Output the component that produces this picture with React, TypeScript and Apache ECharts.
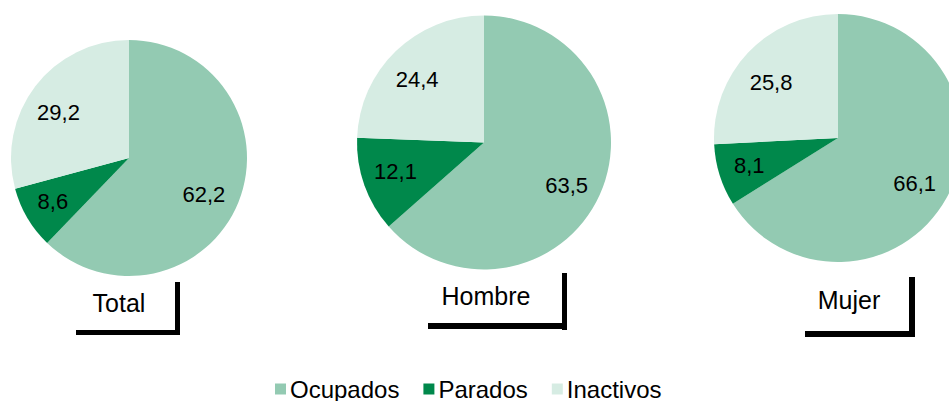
import React, { useEffect, useRef } from "react";
import * as echarts from "echarts";

const categories = ["Ocupados", "Parados", "Inactivos"];
const groups = ["Total", "Hombre", "Mujer"];
const totalValues = [62.2, 8.6, 29.2];
const hombreValues = [63.5, 12.1, 24.4];
const mujerValues = [66.1, 8.1, 25.8];
const groupValues = [totalValues, hombreValues, mujerValues];

const colors = ["#93CAB2", "#00884B", "#D6ECE3"];
const FONT = "'Liberation Sans', Arial, sans-serif";

// layout (positions / sizes)
const pieLayout = [
  { cx: 129, cy: 158, r: 118, labelR: 164 },
  { cx: 484, cy: 142.5, r: 127, labelR: 184 },
  { cx: 838, cy: 138, r: 124, labelR: 176 },
];
// small per-slice label nudges (Excel best-fit placement)
const labelNudge = [
  [[-4, 5], [-3, 0], [-3, 6]],
  [[-4, 4], [1, -3], [-1, 5]],
  [[-3, 1], [-2, 0], [-1, 7]],
];
const titleLayout = [
  { x: 119, y: 290 },
  { x: 486, y: 283 },
  { x: 849, y: 287 },
];
const shadowRects = [
  { x: 175, y: 282, w: 5, h: 53 },
  { x: 76, y: 330, w: 104, h: 5 },
  { x: 562, y: 273, w: 5, h: 57 },
  { x: 428, y: 323, w: 139, h: 6 },
  { x: 909, y: 277, w: 6, h: 60 },
  { x: 805, y: 331, w: 110, h: 6 },
];

export default function App() {
  const ref = useRef<HTMLDivElement>(null);
  useEffect(() => {
    document.body.style.margin = "0";
    if (!ref.current) return;
    const chart = echarts.init(ref.current, null, { renderer: "svg" });
    const series: any[] = [];
    groups.forEach((g, gi) => {
      const L = pieLayout[gi];
      const vals = groupValues[gi];
      series.push({
        type: "pie",
        name: g,
        center: [L.cx, L.cy],
        radius: [0, L.r],
        startAngle: 90,
        clockwise: true,
        silent: true,
        label: { show: false },
        labelLine: { show: false },
        data: categories.map((c, i) => ({
          name: c,
          value: vals[i],
          itemStyle: { color: colors[i] },
        })),
      });
    });
    groups.forEach((g, gi) => {
      const L = pieLayout[gi];
      const vals = groupValues[gi];
      series.push({
        type: "pie",
        name: g + "-labels",
        center: [L.cx, L.cy],
        radius: [0, L.labelR],
        startAngle: 90,
        clockwise: true,
        silent: true,
        avoidLabelOverlap: false,
        itemStyle: { color: "rgba(0,0,0,0)" },
        label: {
          show: true,
          position: "inside",
          color: "#000",
          fontSize: 22,
          fontFamily: FONT,
          formatter: (p: any) => Number(p.value).toFixed(1).replace(".", ","),
        },
        labelLine: { show: false },
        data: categories.map((c, i) => ({
          name: c + " ",
          value: vals[i],
          label: { offset: labelNudge[gi][i] },
        })),
      });
    });

    chart.setOption({
      animation: false,
      title: groups.map((g, gi) => ({
        text: g,
        left: titleLayout[gi].x,
        top: titleLayout[gi].y,
        textAlign: "center",
        padding: 0,
        textStyle: {
          fontSize: 25,
          fontWeight: "normal",
          color: "#000",
          fontFamily: FONT,
        },
      })),
      legend: {
        left: 275,
        top: 377,
        icon: "rect",
        itemWidth: 11,
        itemHeight: 11,
        itemGap: 24,
        padding: 0,
        selectedMode: false,
        textStyle: { fontSize: 24, color: "#000", fontFamily: FONT, padding: [0, 0, 0, -1] },
        data: categories.map((c, i) => ({ name: c, itemStyle: { color: colors[i] } })),
      },
      graphic: shadowRects.map((s) => ({
        type: "rect",
        shape: { x: s.x, y: s.y, width: s.w, height: s.h },
        style: { fill: "#000" },
        silent: true,
      })),
      series,
    });
    return () => chart.dispose();
  }, []);
  return <div ref={ref} style={{ width: 949, height: 401 }} />;
}
